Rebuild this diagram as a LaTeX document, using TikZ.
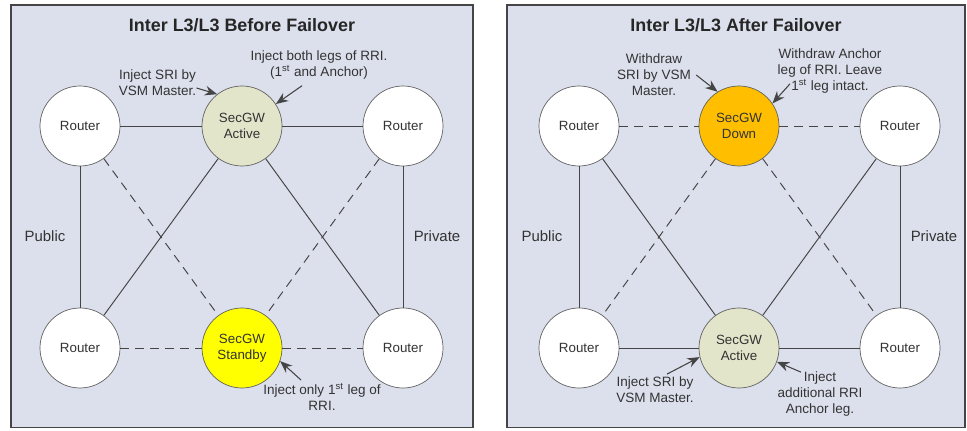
\documentclass[tikz,border=0pt]{standalone}
\usepackage{fontspec}
\setmainfont{Liberation Sans}
\usetikzlibrary{arrows.meta}

\definecolor{panelbg}{HTML}{DCE0EC}
\definecolor{activegw}{HTML}{E2E5CA}
\definecolor{standbygw}{HTML}{FFFF00}
\definecolor{downgw}{HTML}{FFBF00}
\definecolor{linegray}{HTML}{454545}

\begin{document}
\begin{tikzpicture}[
        panel/.style={draw=linegray, fill=panelbg, line width=0.7pt},
        router/.style={draw=linegray!85, circle, minimum size=1.6cm, fill=white, font=\fontsize{7.6}{9}\selectfont, align=center, text=black!80},
        gw/.style={router, fill=#1},
        title/.style={font=\bfseries\fontsize{10.2}{12}\selectfont, text=black!85},
        side/.style={font=\fontsize{8.5}{10}\selectfont, text=black!80},
        note/.style={font=\fontsize{7.7}{9.2}\selectfont, align=center, inner sep=0pt, text=black!80},
        link/.style={draw=linegray, line width=0.55pt},
        backup/.style={link, dash pattern=on 5pt off 3.5pt},
        arrow/.style={-{Stealth[length=7pt, width=5.5pt]}, draw=linegray, fill=linegray, line width=0.6pt}
    ]
        \useasboundingbox (0,0) rectangle (19.34,8.6);

        % before failover
        \draw[panel] (0.22,0.05) rectangle (9.46,8.5);
        \node[title] (title1) at (4.84,8.1) {Inter L3/L3 Before Failover};
        \node[router] (r1a) at (1.6,6.08) {Router};
        \node[gw=activegw] (active1) at (4.84,6.08) {SecGW\\Active};
        \node[router] (r1b) at (8.06,6.08) {Router};
        \node[router] (r1c) at (1.6,1.64) {Router};
        \node[gw=standbygw] (standby1) at (4.84,1.64) {SecGW\\Standby};
        \node[router] (r1d) at (8.06,1.64) {Router};
        \node[side] (pub1) at (0.9,3.88) {Public};
        \node[side] (priv1) at (8.74,3.88) {Private};

        \draw[link] (r1a) -- (active1);
        \draw[link] (active1) -- (r1b);
        \draw[link] (r1a) -- (r1c);
        \draw[link] (r1b) -- (r1d);
        \draw[link] (active1) -- (r1c);
        \draw[link] (active1) -- (r1d);
        \draw[backup] (r1a) -- (standby1);
        \draw[backup] (r1b) -- (standby1);
        \draw[backup] (r1c) -- (standby1);
        \draw[backup] (standby1) -- (r1d);

        \node[note] (sri1) at (3.15,6.94) {Inject SRI by\\VSM Master.};
        \node[note] (rri1) at (6.38,7.3) {Inject both legs of RRI.\\(1\textsuperscript{st} and Anchor)};
        \node[note] (leg1) at (6.44,0.66) {Inject only 1\textsuperscript{st} leg of\\RRI.};
        \draw[arrow] ([yshift=-0.1cm]sri1.east) -- (active1.128);
        \draw[arrow] ([shift={(-0.34,-0.12)}]rri1.south) -- (active1.33);
        \draw[arrow] ([shift={(-0.42,0.06)}]leg1.north) -- (standby1.-19);

        % after failover
        \draw[panel] (10.14,0.05) rectangle (19.3,8.5);
        \node[title] (title2) at (14.72,8.1) {Inter L3/L3 After Failover};
        \node[router] (r2a) at (11.58,6.08) {Router};
        \node[gw=downgw] (down2) at (14.78,6.08) {SecGW\\Down};
        \node[router] (r2b) at (18.0,6.08) {Router};
        \node[router] (r2c) at (11.58,1.64) {Router};
        \node[gw=activegw] (active2) at (14.78,1.64) {SecGW\\Active};
        \node[router] (r2d) at (18.0,1.64) {Router};
        \node[side] (pub2) at (10.84,3.88) {Public};
        \node[side] (priv2) at (18.68,3.88) {Private};

        \draw[backup] (r2a) -- (down2);
        \draw[backup] (down2) -- (r2b);
        \draw[link] (r2a) -- (r2c);
        \draw[link] (r2b) -- (r2d);
        \draw[link] (r2a) -- (active2);
        \draw[link] (r2b) -- (active2);
        \draw[backup] (down2) -- (r2c);
        \draw[backup] (down2) -- (r2d);
        \draw[link] (r2c) -- (active2);
        \draw[link] (active2) -- (r2d);

        \node[note] (wd1) at (13.08,7.1) {Withdraw\\SRI by VSM\\Master.};
        \node[note] (wd2) at (16.6,7.18) {Withdraw Anchor\\leg of RRI. Leave\\1\textsuperscript{st} leg intact.};
        \node[note] (sri2) at (13.1,0.8) {Inject SRI by\\VSM Master.};
        \node[note] (rri2) at (16.4,0.72) {Inject\\additional RRI\\Anchor leg.};
        \draw[arrow] ([shift={(0.1,0)}]wd1.east) -- (down2.122);
        \draw[arrow] ([shift={(-0.8,0.2)}]wd2.south) -- (down2.34);
        \draw[arrow] ([shift={(0.24,0.05)}]sri2.north) -- (active2.193);
        \draw[arrow] ([shift={(-0.38,-0.02)}]rri2.north) -- (active2.-20);
    \end{tikzpicture}
\end{document}
